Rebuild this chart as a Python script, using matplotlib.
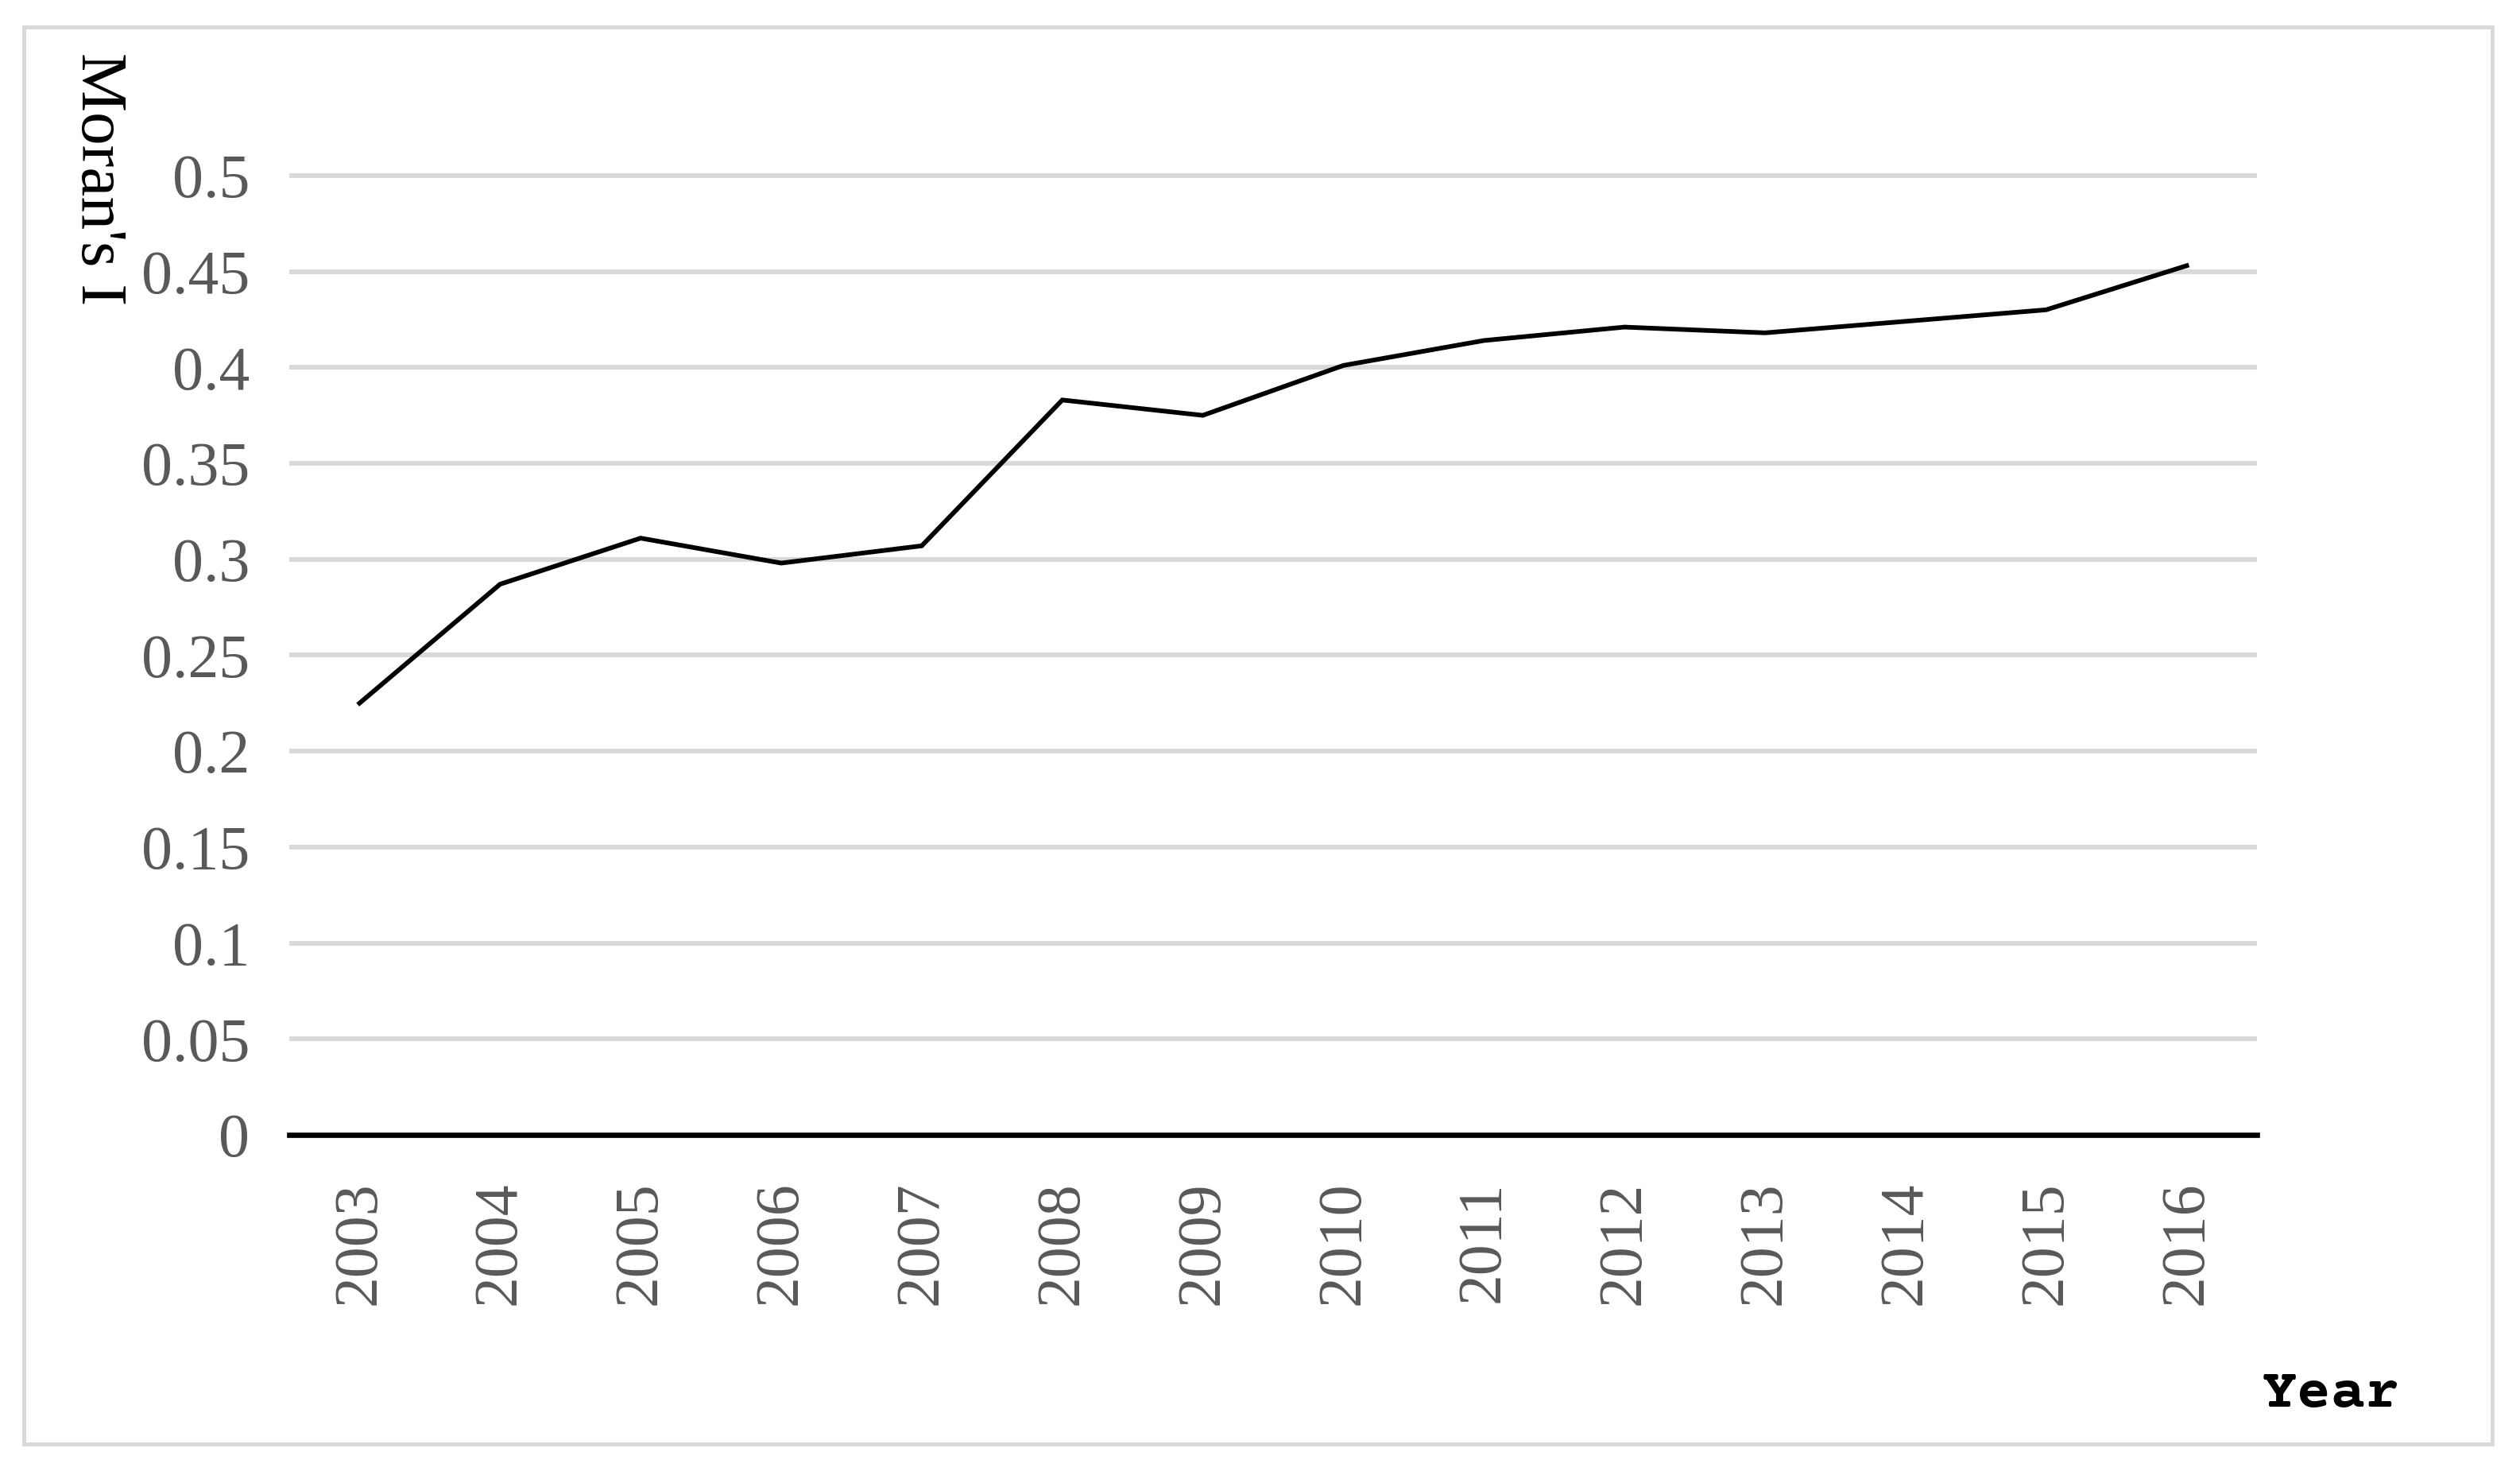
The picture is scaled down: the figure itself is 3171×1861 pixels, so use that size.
#!/usr/bin/env python3
"""Moran's I by year, 2003-2016 (line chart, Excel-style framing)."""
import matplotlib

matplotlib.use("Agg")
import matplotlib.pyplot as plt
from matplotlib.patches import Rectangle

YEARS = ["2003", "2004", "2005", "2006", "2007", "2008", "2009",
         "2010", "2011", "2012", "2013", "2014", "2015", "2016"]
MORANS_I = [0.225, 0.287, 0.311, 0.298, 0.307, 0.383, 0.375,
            0.401, 0.414, 0.421, 0.418, 0.424, 0.430, 0.453]
Y_TICKS = [0, 0.05, 0.1, 0.15, 0.2, 0.25, 0.3, 0.35, 0.4, 0.45, 0.5]
Y_TICK_LABELS = ["0", "0.05", "0.1", "0.15", "0.2", "0.25", "0.3", "0.35", "0.4", "0.45", "0.5"]

W, H = 3171, 1861
GRID = "#d9d9d9"
TICK_COLOR = "#595959"
SERIF = ["Liberation Serif", "DejaVu Serif"]
COURIER = ["Courier Prime", "FreeMono", "DejaVu Sans Mono"]


def main() -> None:
    fig = plt.figure(figsize=(W / 100, H / 100), dpi=100)

    # axes placed in pixel terms: plot spans x 364..2840, y=0 at 1428
    left, right = 364, 2840
    y0, ytop = 1428, 216
    ax = fig.add_axes((left / W, 1 - y0 / H, (right - left) / W, (y0 - ytop) / H))

    x = list(range(len(YEARS)))
    ax.plot(x, MORANS_I, color="black", lw=4.2, solid_joinstyle="miter", zorder=3)

    ax.set_xlim(-0.5, len(YEARS) - 0.5)
    ax.set_ylim(0, 0.502)
    ax.set_xticks(x)
    ax.set_xticklabels(YEARS, rotation=90, fontsize=56, family=SERIF, color=TICK_COLOR)
    ax.set_yticks(Y_TICKS)
    ax.set_yticklabels(Y_TICK_LABELS, fontsize=56, family=SERIF, color=TICK_COLOR)
    ax.tick_params(axis="x", length=0, pad=42)
    ax.tick_params(axis="y", length=0, pad=36)

    ax.yaxis.grid(True, color=GRID, lw=4.3)
    ax.set_axisbelow(True)
    for side in ("top", "right", "left"):
        ax.spines[side].set_visible(False)
    ax.spines["bottom"].set_color("black")
    ax.spines["bottom"].set_linewidth(4.8)
    ax.spines["bottom"].set_zorder(4)

    fig.text(123 / W, 1 - 225 / H, "Moran's I", rotation=270, ha="center", va="center",
             fontsize=60, family=SERIF, color="black")
    fig.text(2933 / W, 1 - 1770 / H, "Year", ha="center", va="baseline",
             fontsize=52, family=COURIER, fontweight="bold", color="black")

    # light grey chart-area frame
    fig.patches.append(Rectangle((30 / W, 1 - 1817 / H), (3136 - 30) / W, (1817 - 34) / H,
                                 transform=fig.transFigure, fill=False,
                                 edgecolor=GRID, lw=3.6))

    fig.savefig("out.png", dpi=100, facecolor="white")
    plt.close(fig)


if __name__ == "__main__":
    main()
